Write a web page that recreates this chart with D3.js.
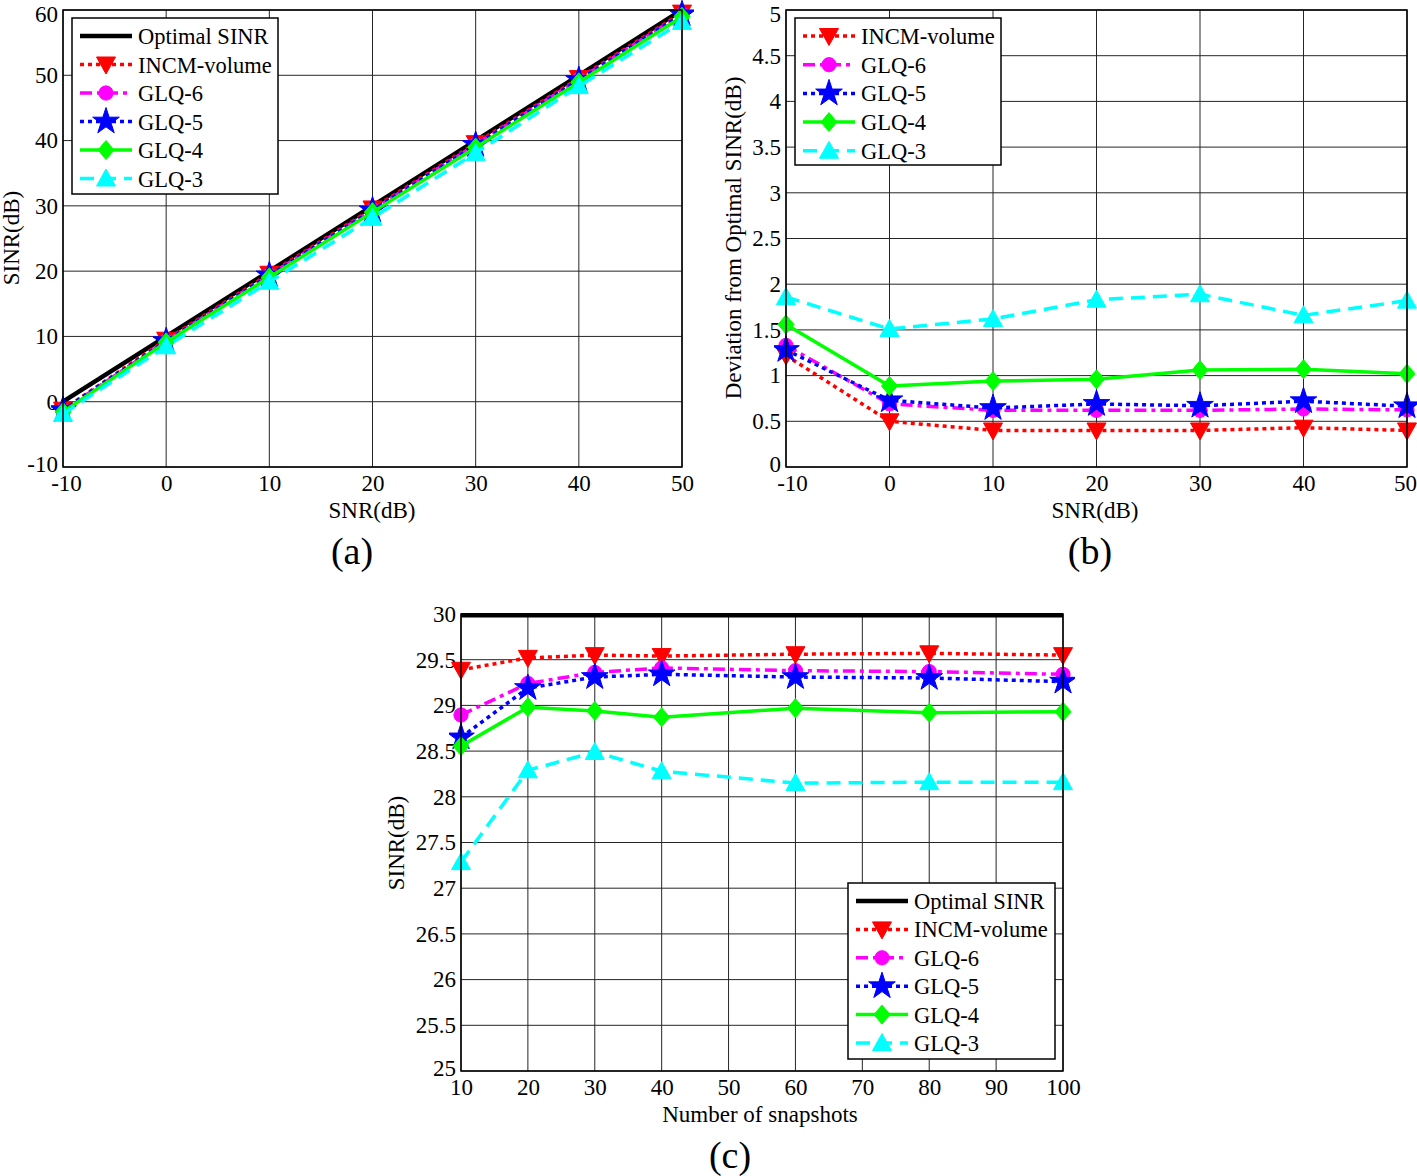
<!DOCTYPE html>
<html><head><meta charset="utf-8">
<script src="https://cdn.jsdelivr.net/npm/d3@7"></script>
<style>body{margin:0;background:#fff}svg{display:block}text{font-family:"Liberation Serif","Times New Roman",serif;fill:#000}</style>
</head><body>
<svg id="c" width="1417" height="1176"></svg>
<script>
// ---- data ----
const seriesNames = ["Optimal SINR","INCM-volume","GLQ-6","GLQ-5","GLQ-4","GLQ-3"];
const snrA = [-10,0,10,20,30,40,50];
const aOptimal = [0,10,20,30,40,50,60];
const aINCM = [-1.22,9.5,19.6,29.6,39.6,49.57,59.6];
const aGLQ6 = [-1.33,9.31,19.38,29.38,39.38,49.37,59.38];
const aGLQ5 = [-1.28,9.27,19.35,29.31,39.33,49.28,59.34];
const aGLQ4 = [-1.56,9.11,19.06,29.04,38.94,48.93,58.98];
const aGLQ3 = [-1.86,8.49,18.38,28.17,38.11,48.34,58.18];

const snrB = [-10,0,10,20,30,40,50];
const bINCM = [1.22,0.50,0.40,0.40,0.40,0.43,0.40];
const bGLQ6 = [1.33,0.69,0.62,0.62,0.62,0.635,0.625];
const bGLQ5 = [1.28,0.73,0.645,0.69,0.67,0.72,0.665];
const bGLQ4 = [1.56,0.886,0.94,0.96,1.06,1.07,1.02];
const bGLQ3 = [1.86,1.51,1.62,1.83,1.89,1.66,1.82];

const snapC = [10,20,30,40,60,80,100];
const cOptimal = [29.985,29.985,29.985,29.985,29.985,29.985,29.985];
const cINCM = [29.39,29.52,29.55,29.54,29.56,29.57,29.55];
const cGLQ6 = [28.895,29.24,29.36,29.41,29.38,29.37,29.34];
const cGLQ5 = [28.65,29.19,29.31,29.34,29.31,29.30,29.26];
const cGLQ4 = [28.555,28.98,28.94,28.87,28.97,28.92,28.93];
const cGLQ3 = [27.285,28.29,28.49,28.28,28.15,28.16,28.16];

const ticksA_x = [-10,0,10,20,30,40,50];
const ticksA_y = [-10,0,10,20,30,40,50,60];
const ticksB_y = [0,0.5,1,1.5,2,2.5,3,3.5,4,4.5,5];
const ticksC_x = [10,20,30,40,50,60,70,80,90,100];
const ticksC_y = [25,25.5,26,26.5,27,27.5,28,28.5,29,29.5,30];

// ---- styles ----
const styles = {
  "Optimal SINR": {color:"#000", dash:null, marker:null, width:4.5},
  "INCM-volume": {color:"#ff0000", dash:"4,4", marker:"tdown", width:3.5},
  "GLQ-6": {color:"#ff00ff", dash:"12,5,4,5", marker:"circle", width:3.5},
  "GLQ-5": {color:"#0000ff", dash:"4,4", marker:"star", width:3.5},
  "GLQ-4": {color:"#00ff00", dash:null, marker:"diamond", width:3.5},
  "GLQ-3": {color:"#00ffff", dash:"14,8", marker:"tup", width:3.5}
};
const FT = 23, FL = 22.5, FA = 23;

const svg = d3.select("#c");
const fmt = d => d3.format("~g")(d).replace("\u2212","-");

function markerPath(type){
  switch(type){
    case "tdown": return "M-9.5,-7.5L9.5,-7.5L0,9.5Z";
    case "tup": return "M-9.5,7.5L9.5,7.5L0,-9.5Z";
    case "circle": return d3.symbol(d3.symbolCircle, 160)();
    case "star": return d3.symbol(d3.symbolStar, 220)();
    case "diamond": return "M0,-9.5L8,0L0,9.5L-8,0Z";
  }
  return null;
}

function panel(cfg){
  const g = svg.append("g");
  const x = d3.scaleLinear().domain(cfg.xd).range([cfg.x0,cfg.x1]);
  const y = d3.scaleLinear().domain(cfg.yd).range([cfg.y1,cfg.y0]);
  // grid
  g.append("g").selectAll("line").data(cfg.xt).join("line")
    .attr("x1",d=>x(d)).attr("x2",d=>x(d)).attr("y1",cfg.y0).attr("y2",cfg.y1)
    .attr("stroke","#262626").attr("stroke-width",1);
  g.append("g").selectAll("line").data(cfg.yt).join("line")
    .attr("y1",d=>y(d)).attr("y2",d=>y(d)).attr("x1",cfg.x0).attr("x2",cfg.x1)
    .attr("stroke","#262626").attr("stroke-width",1);
  // axes with d3
  const xa = d3.axisBottom(x).tickValues(cfg.xt).tickSize(0).tickPadding(8).tickFormat(fmt);
  const ya = d3.axisLeft(y).tickValues(cfg.yt).tickSize(0).tickPadding(5).tickFormat(fmt);
  const gx = g.append("g").attr("transform",`translate(0,${cfg.y1})`).call(xa);
  const gy = g.append("g").attr("transform",`translate(${cfg.x0},0)`).call(ya);
  [gx,gy].forEach(a=>{a.select(".domain").remove(); a.selectAll("text").attr("font-size",FT).attr("font-family","Liberation Serif").attr("fill","#000");});
  const nx = cfg.xt.length, ny = cfg.yt.length;
  gx.selectAll("text").filter((d,i)=>i===0).attr("dx",cfg.nudge||0);
  if(cfg.lastNudge) gx.selectAll("text").filter((d,i)=>i===nx-1).attr("dx",cfg.lastNudge);
  if(cfg.topNudge) gy.selectAll("text").filter((d,i)=>i===ny-1).attr("dy","0.5em");
  gy.selectAll("text").filter((d,i)=>i===0).attr("dy","0.2em");
  // lines
  const clipId = "clip"+cfg.id;
  svg.append("clipPath").attr("id",clipId).append("rect")
    .attr("x",cfg.x0-12).attr("y",cfg.y0-12).attr("width",cfg.x1-cfg.x0+24).attr("height",cfg.y1-cfg.y0+24);
  const line = d3.line().x(d=>x(d[0])).y(d=>y(d[1]));
  cfg.series.forEach(s=>{
    const st = styles[s.name];
    const pts = cfg.xs.map((v,i)=>[v,s.values[i]]);
    const lg = g.append("g").attr("clip-path",`url(#${clipId})`);
    lg.append("path").attr("d",line(pts)).attr("fill","none").attr("stroke",st.color)
      .attr("stroke-width",st.width).attr("stroke-dasharray",st.dash).attr("stroke-linejoin","round");
    if(st.marker){
      lg.selectAll("path.m").data(pts).join("path").attr("class","m")
        .attr("d",markerPath(st.marker)).attr("transform",d=>`translate(${x(d[0])},${y(d[1])})`)
        .attr("fill",st.color).attr("stroke",st.color).attr("stroke-width",1);
    }
  });
  // box
  g.append("rect").attr("x",cfg.x0).attr("y",cfg.y0).attr("width",cfg.x1-cfg.x0).attr("height",cfg.y1-cfg.y0)
    .attr("fill","none").attr("stroke","#000").attr("stroke-width",1.5);
  // axis labels
  g.append("text").attr("x",cfg.xlab[0]).attr("y",cfg.xlab[1]).attr("text-anchor","middle").attr("font-size",FA).text(cfg.xlabel);
  g.append("text").attr("transform",`translate(${cfg.ylab[0]},${cfg.ylab[1]}) rotate(-90)`).attr("text-anchor","middle").attr("font-size",FA).text(cfg.ylabel);
  g.append("text").attr("x",cfg.tag[0]).attr("y",cfg.tag[1]).attr("text-anchor","middle").attr("font-size",38).text(cfg.tagText);
  // legend
  const L = cfg.legend;
  const lgd = g.append("g");
  lgd.append("rect").attr("x",L.x).attr("y",L.y).attr("width",L.w).attr("height",L.h).attr("fill","#fff").attr("stroke","#000").attr("stroke-width",1.5);
  cfg.series.forEach((s,i)=>{
    const st = styles[s.name];
    const yy = L.y + 18 + i*L.dy;
    lgd.append("line").attr("x1",L.x+8).attr("x2",L.x+60).attr("y1",yy).attr("y2",yy)
      .attr("stroke",st.color).attr("stroke-width",st.width).attr("stroke-dasharray",st.dash);
    if(st.marker) lgd.append("path").attr("d",markerPath(st.marker)).attr("transform",`translate(${L.x+34},${yy})`)
      .attr("fill",st.color).attr("stroke",st.color);
    lgd.append("text").attr("x",L.x+66).attr("y",yy+8).attr("font-size",FL).text(s.name);
  });
}

panel({id:"a", x0:63,x1:682,y0:10,y1:467, xd:[-10,50], yd:[-10,60], xt:ticksA_x, yt:ticksA_y, xs:snrA, nudge:3, topNudge:true,
  series:[{name:"Optimal SINR",values:aOptimal},{name:"INCM-volume",values:aINCM},{name:"GLQ-6",values:aGLQ6},{name:"GLQ-5",values:aGLQ5},{name:"GLQ-4",values:aGLQ4},{name:"GLQ-3",values:aGLQ3}],
  xlabel:"SNR(dB)", xlab:[372,518], ylabel:"SINR(dB)", ylab:[19,238], tagText:"(a)", tag:[352,564],
  legend:{x:72,y:18,w:206,h:176,dy:28.5}});

panel({id:"b", x0:786,x1:1407,y0:10,y1:467, xd:[-10,50], yd:[0,5], xt:ticksA_x, yt:ticksB_y, xs:snrB, nudge:6, lastNudge:-2, topNudge:true,
  series:[{name:"INCM-volume",values:bINCM},{name:"GLQ-6",values:bGLQ6},{name:"GLQ-5",values:bGLQ5},{name:"GLQ-4",values:bGLQ4},{name:"GLQ-3",values:bGLQ3}],
  xlabel:"SNR(dB)", xlab:[1095,518], ylabel:"Deviation from Optimal SINR(dB)", ylab:[741,238], tagText:"(b)", tag:[1090,564],
  legend:{x:795,y:18,w:206,h:147,dy:28.7}});

panel({id:"c", x0:461,x1:1063,y0:614,y1:1071, xd:[10,100], yd:[25,30], xt:ticksC_x, yt:ticksC_y, xs:snapC,
  series:[{name:"Optimal SINR",values:cOptimal},{name:"INCM-volume",values:cINCM},{name:"GLQ-6",values:cGLQ6},{name:"GLQ-5",values:cGLQ5},{name:"GLQ-4",values:cGLQ4},{name:"GLQ-3",values:cGLQ3}],
  xlabel:"Number of snapshots", xlab:[760,1122], ylabel:"SINR(dB)", ylab:[404,843], tagText:"(c)", tag:[730,1168],
  legend:{x:848,y:883,w:207,h:176,dy:28.4}});
</script>
</body></html>
